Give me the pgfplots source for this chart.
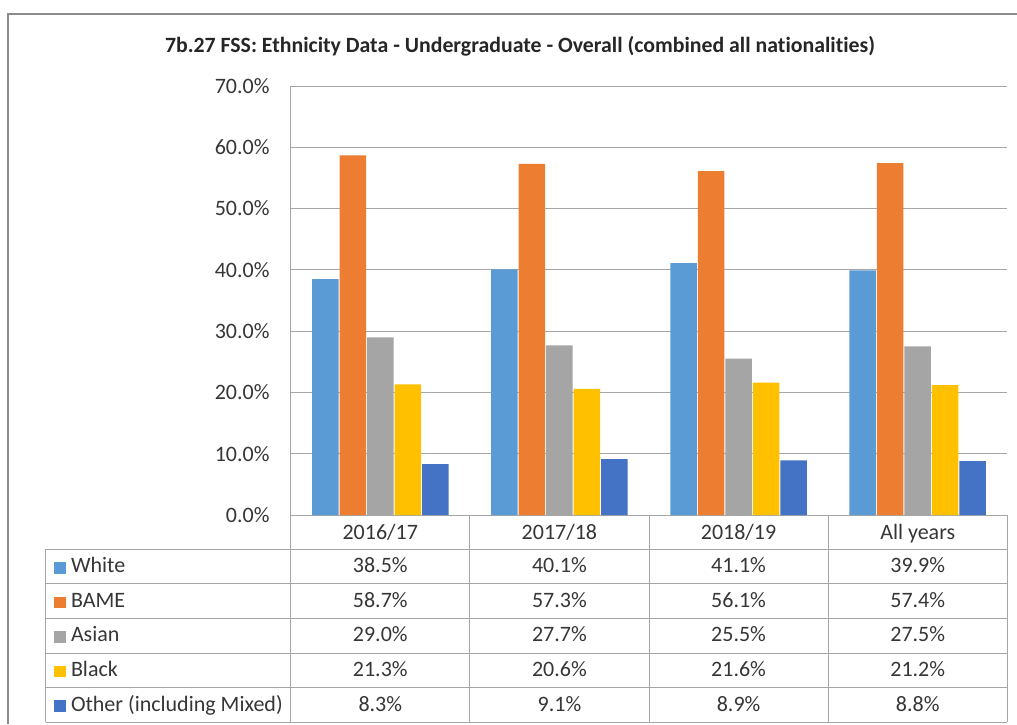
\documentclass[border=0pt]{standalone}
\usepackage{pgfplots}
\pgfplotsset{compat=1.18}
\usepackage{pgfplotstable}
\usepackage{fontspec}
\setmainfont{Carlito}[Ligatures=NoCommon]

\definecolor{cWhite}{HTML}{5B9BD5}
\definecolor{cBAME}{HTML}{ED7D31}
\definecolor{cAsian}{HTML}{A5A5A5}
\definecolor{cBlack}{HTML}{FFC000}
\definecolor{cOther}{HTML}{4472C4}
\definecolor{txt}{HTML}{363636}
\definecolor{rule}{HTML}{A6A6A6}
\definecolor{frame}{HTML}{8C8C8C}

% percentages per academic year
\pgfplotstableread{
x White BAME Asian Black Other
0 38.5 58.7 29.0 21.3 8.3
1 40.1 57.3 27.7 20.6 9.1
2 41.1 56.1 25.5 21.6 8.9
3 39.9 57.4 27.5 21.2 8.8
}\ethnicity

\begin{document}
\begin{tikzpicture}[font=\fontsize{22}{26}\selectfont, text=txt]
\useasboundingbox (0,0) rectangle (1017pt,-724pt);
\draw[frame, line width=1.3pt] (8pt,-724pt) -- (8pt,-14pt) -- (1017pt,-14pt);
\node[anchor=base, font=\fontsize{21.8}{26}\selectfont\bfseries, text=black!85] at (520pt,-52pt)
  {7b.27 FSS: Ethnicity Data - Undergraduate - Overall (combined all nationalities)};

\begin{axis}[
  at={(290.7pt,-515pt)}, anchor=south west,
  scale only axis, width=716.6pt, height=429pt,
  ybar=1pt, bar width=26.5pt,
  xmin=-0.5, xmax=3.5, ymin=0, ymax=70,
  xtick={0,1,2,3}, xticklabels={2016/17,2017/18,2018/19,All years},
  ytick={0,10,...,70},
  yticklabel={\pgfmathprintnumber[fixed,fixed zerofill,precision=1]{\tick}\%},
  /pgf/number format/assume math mode=true,
  major tick length=0pt,
  axis line style={draw=none},
  ymajorgrids, grid style={rule, line width=1pt},
  tick label style={font=\fontsize{22}{26}\selectfont, text=txt},
  xticklabel style={anchor=base, yshift=-24pt, inner sep=0pt},
  yticklabel style={anchor=east, inner sep=0pt, xshift=-21pt},
  legend style={
    at={(axis description cs:-0.3303,-0.07995)}, anchor=north west,
    draw=none, fill=none, inner sep=0pt, outer sep=0pt,
    row sep=0pt, column sep=5.5pt,
    nodes={inner sep=0pt, text height=23.4pt, text depth=11.2pt,
      anchor=base west, text=txt, font=\fontsize{22}{26}\selectfont},
  },
  legend image code/.code={\fill[#1] (0pt,-0.8pt) rectangle (11.5pt,10.8pt);},
  clip=false,
]
\addplot[fill=cWhite, draw=none] table[x=x,y=White]{\ethnicity};
\addplot[fill=cBAME, draw=none] table[x=x,y=BAME]{\ethnicity};
\addplot[fill=cAsian, draw=none] table[x=x,y=Asian]{\ethnicity};
\addplot[fill=cBlack, draw=none] table[x=x,y=Black]{\ethnicity};
\addplot[fill=cOther, draw=none] table[x=x,y=Other]{\ethnicity};
\legend{White,BAME,Asian,Black,Other (including Mixed)}
\end{axis}

% data table grid
\begin{scope}[rule, line width=1pt]
\foreach \y in {549.3,583.9,618.5,653.1,687.7,722.3}
  \draw (45.7pt,{-\y*1pt}) -- (1007.3pt,{-\y*1pt});
\draw (45.7pt,-549.3pt) -- (45.7pt,-722.3pt);
\draw (290.7pt,-86pt) -- (290.7pt,-722.3pt);
\foreach \x in {469.9,649.1,828.2,1007.3}
  \draw ({\x*1pt},-515pt) -- ({\x*1pt},-722.3pt);
\end{scope}

% data table values
\foreach \n [count=\r from 0] in {White,BAME,Asian,Black,Other}
  \foreach \c in {0,...,3} {
    \pgfplotstablegetelem{\c}{\n}\of\ethnicity
    \node[anchor=base] at ({380.3pt+179.15pt*\c},{-572.7pt-34.6pt*\r})
      {\pgfmathprintnumber[fixed,fixed zerofill,precision=1,assume math mode=true]{\pgfplotsretval}\%};
  }
\end{tikzpicture}
\end{document}
